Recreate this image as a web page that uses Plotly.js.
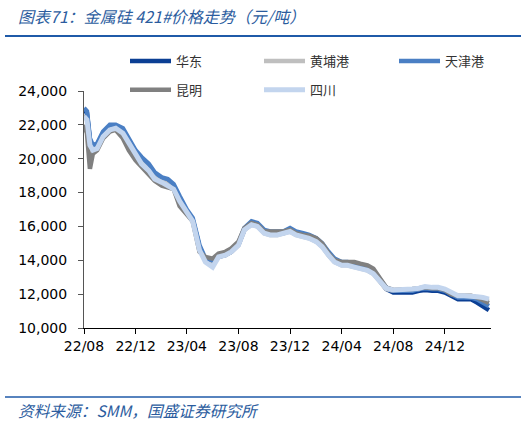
<!DOCTYPE html>
<html><head><meta charset="utf-8">
<script src="https://cdn.plot.ly/plotly-3.0.1.min.js"></script>
<style>html,body{margin:0;padding:0;background:#fff}#c{width:526px;height:422px}</style>
</head><body><div id="c"></div>
<script>
var dates = ["2022-08-01","2022-08-08","2022-08-15","2022-08-22","2022-09-01","2022-09-15","2022-10-01","2022-10-15","2022-11-01","2022-11-15",
"2022-12-01","2022-12-15","2023-01-01","2023-01-15","2023-02-01","2023-02-15","2023-03-01","2023-03-15","2023-04-01","2023-04-15",
"2023-05-01","2023-05-15","2023-06-01","2023-06-15","2023-07-01","2023-07-15","2023-08-01","2023-08-15","2023-09-01","2023-09-15",
"2023-10-01","2023-10-15","2023-11-01","2023-11-15","2023-12-01","2023-12-15","2024-01-01","2024-01-15","2024-02-01","2024-02-15",
"2024-03-01","2024-03-15","2024-04-01","2024-04-15","2024-05-01","2024-05-15","2024-06-01","2024-06-15","2024-07-01","2024-07-15",
"2024-08-01","2024-08-15","2024-09-01","2024-09-15","2024-10-01","2024-10-15","2024-11-01","2024-11-15","2024-12-01","2024-12-15",
"2025-01-01","2025-01-15","2025-02-01","2025-02-15","2025-03-01","2025-03-15"];

var huadong = [22900,22700,21100,20700,20800,21500,21900,21900,21700,21100,
20400,20000,19600,19100,18800,18700,18400,17700,16900,16400,
14800,14000,13900,14200,14300,14500,14900,15800,16200,16100,
15700,15600,15600,15600,15800,15600,15500,15400,15200,14900,
14400,14000,13800,13800,13700,13600,13500,13300,12800,12300,
12100,12100,12100,12100,12200,12250,12200,12200,12100,11900,
11700,11700,11700,11500,11300,11060];

var huangpu = [22600,22400,20900,20600,20700,21400,21800,21800,21600,21000,
20300,19800,19400,18900,18700,18500,18300,17600,16850,16300,
14700,13950,13700,14200,14300,14500,14900,15800,16100,16000,
15600,15500,15500,15600,15700,15500,15400,15300,15100,14800,
14300,13900,13700,13700,13600,13500,13400,13200,12700,12300,
12200,12200,12200,12250,12300,12400,12350,12350,12250,12050,
11850,11850,11850,11800,11700,11600];

var tianjin = [23000,22800,21200,20800,20900,21600,22000,22000,21800,21200,
20500,20100,19700,19200,18900,18800,18500,17800,17000,16500,
14900,14100,14000,14300,14400,14600,15000,15900,16300,16200,
15800,15700,15700,15700,15900,15700,15600,15500,15300,15000,
14500,14100,13900,13900,13800,13700,13600,13400,12900,12400,
12200,12200,12200,12200,12300,12350,12300,12300,12200,12000,
11800,11800,11800,11700,11500,11300];

var kunming = [22000,21500,19400,20300,20500,21200,21600,21700,21200,20500,
19900,19500,19100,18700,18400,18300,18200,17200,16700,16300,
14500,14200,14100,14400,14500,14700,15100,15900,16200,16100,
15700,15700,15700,15700,15800,15600,15500,15450,15300,15000,
14400,14000,13900,13900,13900,13800,13700,13500,12900,12400,
12250,12250,12250,12300,12350,12400,12350,12350,12250,12000,
11900,11900,11900,11800,11650,11480];

var sichuan = [22500,22300,20800,20500,20600,21300,21700,21800,21500,20900,
20200,19700,19300,18800,18600,18400,18200,17500,16800,16300,
14600,13900,13600,14200,14300,14500,14900,15800,16100,16000,
15600,15500,15500,15600,15700,15500,15400,15300,15100,14800,
14300,13900,13700,13700,13600,13500,13400,13200,12700,12350,
12250,12250,12250,12300,12350,12450,12400,12400,12300,12100,
11900,11900,11900,11850,11800,11700];

var tickVals = ["2022-08-01","2022-12-01","2023-04-01","2023-08-01","2023-12-01","2024-04-01","2024-08-01","2024-12-01"];
var tickText = ["22/08","22/12","23/04","23/08","23/12","24/04","24/08","24/12"];

function tr(name, y, color, w, leg){
  return {x: dates, y: y, name: name, type: 'scatter', mode: 'lines',
    line: {color: color, width: w}, legend: leg, legendgroup: name};
}
var data = [
  tr('华东', huadong, '#0b3f94', 4.5, 'legend'),
  tr('黄埔港', huangpu, '#bfbfbf', 4.5, 'legend2'),
  tr('天津港', tianjin, '#4a7fc4', 4.5, 'legend3'),
  tr('昆明', kunming, '#808080', 4.5, 'legend'),
  tr('四川', sichuan, '#c3d5ee', 5, 'legend2')
];

var W = 407, H = 237, X0 = 84, Y0 = 328;
function px(x){return (x - X0)/W;}
function py(y){return (Y0 - y)/H;}

var legFont = {family: '"Noto Sans CJK SC", sans-serif', size: 13, color: '#333'};
function leg(xp){
  return {orientation: 'v', x: px(xp), y: py(46), xanchor: 'left', yanchor: 'top',
    font: legFont, bgcolor: 'rgba(0,0,0,0)', traceorder: 'grouped', tracegroupgap: 9, itemwidth: 41};
}
var layout = {
  width: 526, height: 422,
  margin: {l: 84, r: 35, t: 91, b: 94},
  paper_bgcolor: '#fff', plot_bgcolor: '#fff',
  showlegend: true,
  legend: leg(125),
  legend2: leg(259),
  legend3: leg(394),
  xaxis: {type: 'date', range: ['2022-08-01', '2025-03-20'], tickvals: tickVals, ticktext: tickText,
    showgrid: false, zeroline: false, showline: true, linecolor: '#000', linewidth: 1,
    ticks: 'outside', ticklen: 5, tickcolor: '#000',
    tickfont: {family: '"DejaVu Sans", sans-serif', size: 14, color: '#000'}},
  yaxis: {range: [10000, 24000], dtick: 2000, tickformat: ',d',
    showgrid: false, zeroline: false, showline: true, linecolor: '#555', linewidth: 1,
    ticks: 'outside', ticklen: 5, tickcolor: '#555', ticklabelstandoff: 8,
    tickfont: {family: '"DejaVu Sans", sans-serif', size: 14, color: '#000'}},
  shapes: [
    {type: 'line', xref: 'paper', yref: 'paper', x0: px(5), x1: px(521), y0: py(36), y1: py(36),
      line: {color: '#1f5aa8', width: 2}},
    {type: 'line', xref: 'paper', yref: 'paper', x0: px(5), x1: px(521), y0: py(397), y1: py(397),
      line: {color: '#1f5aa8', width: 1.5}}
  ],
  annotations: [
    {xref: 'paper', yref: 'paper', x: px(16), y: py(16), xanchor: 'left', yanchor: 'middle', showarrow: false,
      text: '<i>图表71：金属硅 421#价格走势（元/吨）</i>',
      font: {family: '"Noto Sans CJK SC", sans-serif', size: 16, color: '#2b5c9e'}},
    {xref: 'paper', yref: 'paper', x: px(16), y: py(410), xanchor: 'left', yanchor: 'middle', showarrow: false,
      text: '<i>资料来源：SMM，国盛证券研究所</i>',
      font: {family: '"Noto Sans CJK SC", sans-serif', size: 15.7, color: '#2b5c9e'}}
  ]
};
Plotly.newPlot('c', data, layout, {displayModeBar: false, staticPlot: true});
</script>
</body></html>
